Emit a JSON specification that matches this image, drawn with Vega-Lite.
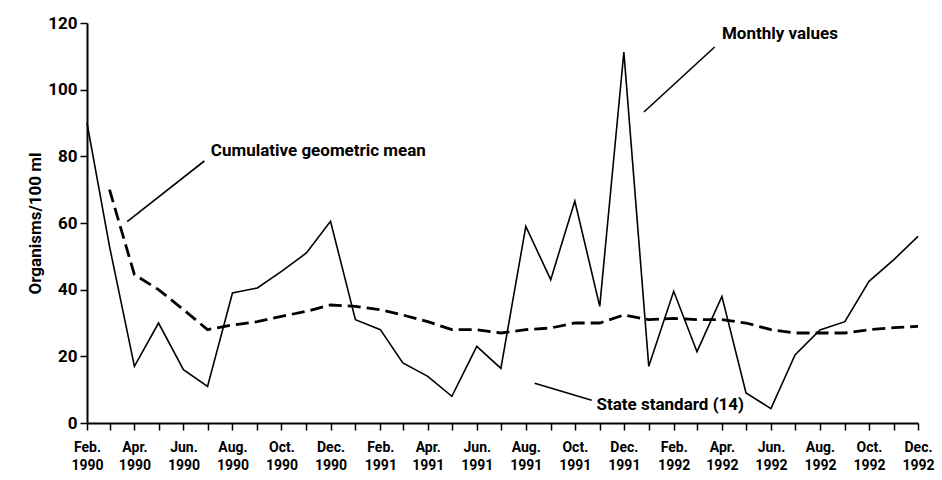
{
  "$schema": "https://vega.github.io/schema/vega-lite/v6.json",
  "width": 831,
  "height": 400,
  "autosize": "none",
  "padding": {"left": 87, "top": 23, "right": 24, "bottom": 57},
  "background": "white",
  "datasets": {
    "series": [
      {"month": "1990-02-01", "monthly": 90, "geomean": null},
      {"month": "1990-03-01", "monthly": 53, "geomean": 70},
      {"month": "1990-04-01", "monthly": 17, "geomean": 44.5},
      {"month": "1990-05-01", "monthly": 30, "geomean": 40},
      {"month": "1990-06-01", "monthly": 16, "geomean": 34},
      {"month": "1990-07-01", "monthly": 11, "geomean": 28},
      {"month": "1990-08-01", "monthly": 39, "geomean": 29.4},
      {"month": "1990-09-01", "monthly": 40.5, "geomean": 30.4},
      {"month": "1990-10-01", "monthly": 45.5, "geomean": 32},
      {"month": "1990-11-01", "monthly": 51, "geomean": 33.5},
      {"month": "1990-12-01", "monthly": 60.5, "geomean": 35.4},
      {"month": "1991-01-01", "monthly": 31, "geomean": 35},
      {"month": "1991-02-01", "monthly": 28, "geomean": 34},
      {"month": "1991-03-01", "monthly": 18, "geomean": 32.4},
      {"month": "1991-04-01", "monthly": 14, "geomean": 30.4},
      {"month": "1991-05-01", "monthly": 8, "geomean": 28},
      {"month": "1991-06-01", "monthly": 23, "geomean": 28},
      {"month": "1991-07-01", "monthly": 16.4, "geomean": 27},
      {"month": "1991-08-01", "monthly": 59, "geomean": 28},
      {"month": "1991-09-01", "monthly": 43, "geomean": 28.5},
      {"month": "1991-10-01", "monthly": 66.6, "geomean": 30},
      {"month": "1991-11-01", "monthly": 35, "geomean": 30},
      {"month": "1991-12-01", "monthly": 111.3, "geomean": 32.4},
      {"month": "1992-01-01", "monthly": 17, "geomean": 31},
      {"month": "1992-02-01", "monthly": 39.5, "geomean": 31.4},
      {"month": "1992-03-01", "monthly": 21.4, "geomean": 31},
      {"month": "1992-04-01", "monthly": 38, "geomean": 31},
      {"month": "1992-05-01", "monthly": 9, "geomean": 30},
      {"month": "1992-06-01", "monthly": 4.3, "geomean": 28},
      {"month": "1992-07-01", "monthly": 20.4, "geomean": 27},
      {"month": "1992-08-01", "monthly": 27.9, "geomean": 27},
      {"month": "1992-09-01", "monthly": 30.4, "geomean": 27},
      {"month": "1992-10-01", "monthly": 42.5, "geomean": 28},
      {"month": "1992-11-01", "monthly": 49, "geomean": 28.6},
      {"month": "1992-12-01", "monthly": 56, "geomean": 29}
    ],
    "notes": [
      {"label": "Cumulative geometric mean", "x1": "1990-03-23", "y1": 60.4, "x2": "1990-06-27", "y2": 78.6, "tx": "1990-07-05", "ty": 81.5},
      {"label": "Monthly values", "x1": "1991-12-26", "y1": 93.3, "x2": "1992-03-23", "y2": 112.8, "tx": "1992-04-01", "ty": 116.8},
      {"label": "State standard (14)", "x1": "1991-08-12", "y1": 11.9, "x2": "1991-10-22", "y2": 6.8, "tx": "1991-10-28", "ty": 5.3}
    ]
  },
  "layer": [
    {
      "mark": {"type": "rule", "strokeDash": [2, 4], "strokeWidth": 1, "color": "#555"},
      "encoding": {"y": {"datum": 14, "type": "quantitative"}}
    },
    {
      "data": {"name": "series"},
      "mark": {"type": "line", "color": "black", "strokeWidth": 1.6},
      "encoding": {
        "x": {
          "field": "month", "type": "temporal", "title": null,
          "scale": {"type": "utc", "domain": [{"year": 1990, "month": 2, "date": 1, "utc": true}, {"year": 1992, "month": 12, "date": 1, "utc": true}]},
          "axis": {
            "tickCount": {"interval": "month", "step": 1},
            "labelExpr": "utcmonth(datum.value) % 2 == 1 ? [utcFormat(datum.value, '%b') + '.', utcFormat(datum.value, '%Y')] : ''",
            "labelOverlap": false, "labelFlush": false, "labelBound": false,
            "labelFontSize": 14, "labelLineHeight": 18, "labelPadding": 10
          }
        },
        "y": {
          "field": "monthly", "type": "quantitative", "title": "Organisms/100 ml",
          "scale": {"domain": [0, 120], "nice": false},
          "axis": {"values": [0, 20, 40, 60, 80, 100, 120], "labelFontSize": 17, "labelPadding": 3, "titleFontSize": 17, "titlePadding": 3}
        }
      }
    },
    {
      "data": {"name": "series"},
      "transform": [{"filter": "datum.geomean != null"}],
      "mark": {"type": "line", "color": "black", "strokeWidth": 2.8, "strokeDash": [13, 6]},
      "encoding": {
        "x": {"field": "month", "type": "temporal", "title": null},
        "y": {"field": "geomean", "type": "quantitative", "title": "Organisms/100 ml"}
      }
    },
    {
      "data": {"name": "notes"},
      "mark": {"type": "rule", "color": "black", "strokeWidth": 1.6},
      "encoding": {
        "x": {"field": "x1", "type": "temporal", "title": null},
        "y": {"field": "y1", "type": "quantitative", "title": "Organisms/100 ml"},
        "x2": {"field": "x2"},
        "y2": {"field": "y2"}
      }
    },
    {
      "data": {"name": "notes"},
      "mark": {"type": "text", "align": "left", "baseline": "middle", "fontSize": 17, "fontWeight": "bold", "color": "black"},
      "encoding": {
        "x": {"field": "tx", "type": "temporal", "title": null},
        "y": {"field": "ty", "type": "quantitative", "title": "Organisms/100 ml"},
        "text": {"field": "label"}
      }
    }
  ],
  "config": {
    "view": {"stroke": null},
    "font": "Roboto",
    "axis": {
      "domainColor": "black", "domainWidth": 2,
      "tickColor": "black", "tickWidth": 1.5, "tickSize": 7,
      "labelColor": "black", "labelFontWeight": "bold",
      "titleColor": "black", "titleFontWeight": "bold",
      "grid": false
    }
  }
}
